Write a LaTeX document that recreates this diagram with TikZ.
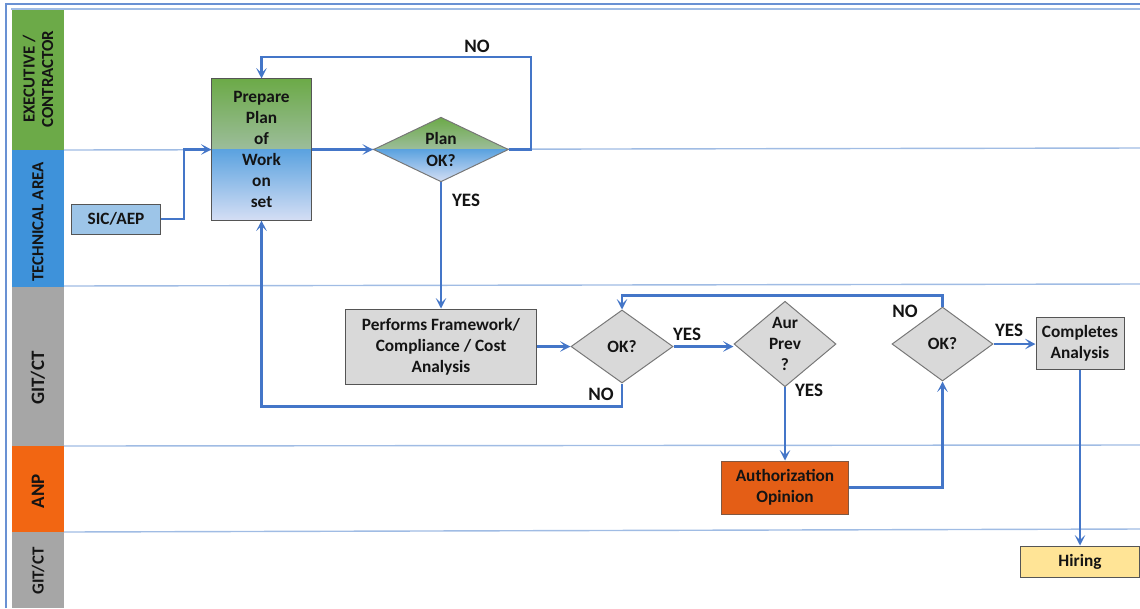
\documentclass[tikz,border=0pt]{standalone}
\usepackage{fontspec}
\setmainfont{Carlito}
\usetikzlibrary{arrows.meta,positioning,shapes.geometric}
\definecolor{flowBlue}{RGB}{68, 118, 200}
\definecolor{laneRule}{RGB}{160, 188, 228}
\definecolor{laneGreen}{RGB}{108, 170, 72}
\definecolor{laneBlue}{RGB}{62, 146, 218}
\definecolor{laneGray}{RGB}{166, 166, 166}
\definecolor{laneOrange}{RGB}{242, 102, 18}
\definecolor{paleBlue}{RGB}{212, 222, 244}
\definecolor{paleLilac}{RGB}{205, 208, 238}
\definecolor{boxGray}{RGB}{217, 217, 217}
\definecolor{boxEdge}{RGB}{85, 85, 85}
\definecolor{sicBlue}{RGB}{157, 197, 232}
\definecolor{authOrange}{RGB}{228, 94, 22}
\definecolor{hireYellow}{RGB}{255, 228, 150}
\definecolor{inkText}{RGB}{20, 20, 20}

\begin{document}
\begin{tikzpicture}[
        x=0.025cm, y=-0.025cm,
        every node/.style={font=\fontsize{12.3pt}{15pt}\selectfont\bfseries\color{inkText}},
        lanelabel/.style={rotate=90, align=center, font=\fontsize{12pt}{13pt}\selectfont\bfseries\color{inkText}},
        box/.style={draw=boxEdge, line width=0.7pt, align=center, inner sep=2pt},
        graybox/.style={box, fill=boxGray},
        decision/.style={diamond, draw=boxEdge!80, line width=0.7pt, fill=boxGray, align=center, inner sep=0pt},
        twotone/.style={path picture={
            \shade[top color=laneGreen, bottom color=paleLilac] (path picture bounding box.north west) rectangle (path picture bounding box.east);
            \shade[top color=laneBlue!85, bottom color=paleBlue] (path picture bounding box.west) rectangle (path picture bounding box.south east);
        }},
        tag/.style={font=\fontsize{13.5pt}{15pt}\selectfont\bfseries\color{inkText}},
        flow/.style={-{Stealth[length=2.6mm, width=2.6mm, inset=1.2mm]}, line width=1.8pt, color=flowBlue},
        rule/.style={laneRule, line width=1pt}
    ]
        \useasboundingbox (0,0) rectangle (1140,608);

        % Frame
        \draw[flowBlue!80, line width=1.2pt] (6,608) -- (6,4) -- (1140,4);
        \draw[laneRule, line width=1.2pt] (11,9) -- (1140,9);

        % Lanes
        \fill[laneGreen] (12,10) rectangle (64,150);
        \fill[laneBlue] (12,150) rectangle (64,287);
        \fill[laneGray] (12,287) rectangle (64,446);
        \fill[laneOrange] (12,446) rectangle (64,532);
        \fill[laneGray] (12,532) rectangle (64,608);
        \node[lanelabel] (laneExec) at (38,79) {EXECUTIVE /\\CONTRACTOR};
        \node[lanelabel] (laneTech) at (38,222) {TECHNICAL AREA};
        \node[lanelabel, font=\fontsize{13.5pt}{14pt}\selectfont\bfseries\color{inkText}] (laneGit) at (38,378) {GIT/CT};
        \node[lanelabel, font=\fontsize{13.5pt}{14pt}\selectfont\bfseries\color{inkText}] (laneAnp) at (38,491) {ANP};
        \node[lanelabel] (laneGitB) at (38,571) {GIT/CT};
        \draw[rule] (64,150) -- (1140,148);
        \draw[rule] (64,286) -- (1140,284);
        \draw[rule] (64,446) -- (1140,445);
        \draw[rule] (64,532) -- (1140,529);

        % Nodes
        \node[box, fill=sicBlue, minimum width=2.225cm, minimum height=0.75cm] (sic) at (116,219) {SIC/AEP};
        \node[box, twotone, minimum width=2.475cm, minimum height=3.525cm] (prep) at (261.5,149.5) {Prepare\\Plan\\of\\Work\\on\\set};
        \node[decision, twotone, minimum width=3.375cm, minimum height=1.425cm] (planok) at (441,149.5) {Plan\\OK?};
        \node[graybox, minimum width=4.75cm, minimum height=1.875cm] (perf) at (441,346.5) {Performs Framework/\\Compliance / Cost\\Analysis};
        \node[decision, minimum width=2.55cm, minimum height=1.825cm] (okA) at (622,346.5) {OK?};
        \node[decision, minimum width=2.55cm, minimum height=1.875cm] (aur) at (785,344) {Aur\\Prev\\?};
        \node[box, fill=authOrange, draw=boxEdge!70!authOrange, minimum width=3.175cm, minimum height=1.325cm] (auth) at (785,487.5) {Authorization\\Opinion};
        \node[decision, minimum width=2.525cm, minimum height=1.85cm] (okB) at (942.5,344) {OK?};
        \node[graybox, minimum width=2.2cm, minimum height=1.3cm] (comp) at (1080,343) {Completes\\Analysis};
        \node[box, fill=hireYellow, minimum width=2.975cm, minimum height=0.775cm] (hire) at (1080,561.5) {Hiring};

        % Connectors
        \coordinate (noTurn) at (531,57);
        \draw[flow] (sic.east) -- ++(23,0) |- (prep.west);
        \draw[flow] (prep) -- (planok);
        \draw[flow] (planok.east) -| (noTurn) -| (prep.north);
        \draw[flow] (planok.south) -- (perf.north);
        \draw[flow] (perf) -- (okA);
        \draw[flow] (okA.east) -- (okA.east -| aur.west);
        \draw[flow] (okA.south) -- ++(0,23) -| (prep.south);
        \draw[flow] (aur.south) -- (auth.north);
        \draw[flow] (auth.east) -| (okB.south);
        \draw[flow] (okB.north) -- ++(0,-11) -| (okA.north);
        \draw[flow] (okB.east) -- (okB.east -| comp.west);
        \draw[flow] (comp.south) -- (hire.north);

        % Labels
        \node[tag] (noPlan) at (477,46) {NO};
        \node[tag] (yesPlan) at (466,200) {YES};
        \node[tag] (yesA) at (687,334) {YES};
        \node[tag] (noA) at (601,394) {NO};
        \node[tag] (yesAur) at (809,390) {YES};
        \node[tag] (noB) at (905,311) {NO};
        \node[tag] (yesB) at (1009,330) {YES};
    \end{tikzpicture}
\end{document}
